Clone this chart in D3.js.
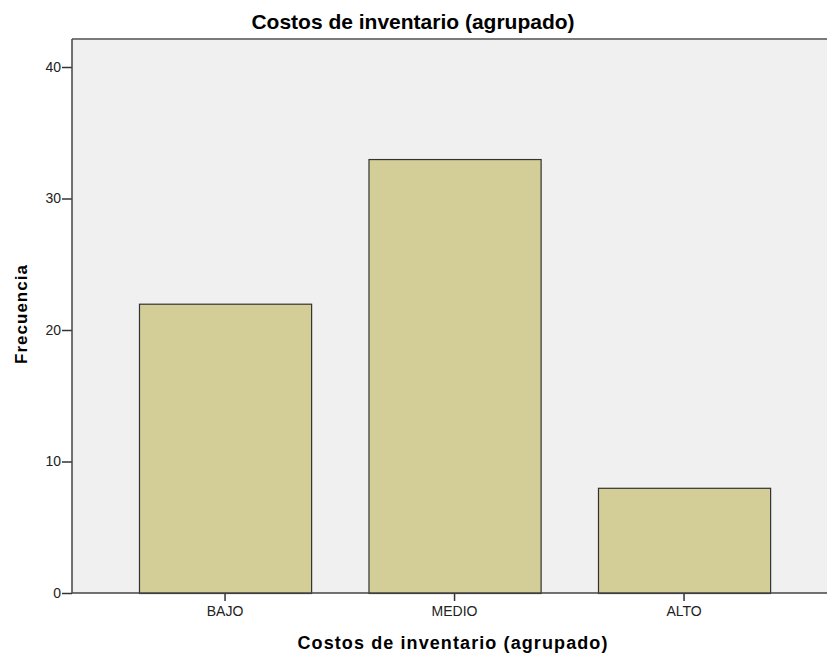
<!DOCTYPE html>
<html>
<head>
<meta charset="utf-8">
<script src="https://cdn.jsdelivr.net/npm/d3@7"></script>
<style>
  body { margin: 0; background: #fff; }
  text { font-family: "Liberation Sans", Arial, sans-serif; }
</style>
</head>
<body>
<svg id="chart" width="827" height="660"></svg>
<script>
// datos
var categories = ["BAJO", "MEDIO", "ALTO"];
var counts = [22, 33, 8];
var y_ticks = [0, 10, 20, 30, 40];

var chart = {
    width: 827,
    height: 660,
    left: 72,
    top: 39,
    right: 827,
    bottom: 593,
};

var svg = d3.select("#chart");

var x = d3.scaleBand()
    .domain(categories)
    .range([110.3, 798.8])
    .paddingInner(0.25)
    .paddingOuter(0.125);

var y = d3.scaleLinear()
    .domain([0, 40])
    .range([chart.bottom, chart.bottom - 40 * 13.15]);

// fondo del area de grafico
svg.append("rect")
    .attr("x", chart.left)
    .attr("y", chart.top)
    .attr("width", chart.right - chart.left)
    .attr("height", chart.bottom - chart.top)
    .attr("fill", "#f0f0f0");

svg.append("line")
    .attr("x1", chart.left).attr("x2", chart.right)
    .attr("y1", chart.top).attr("y2", chart.top)
    .attr("stroke", "#7a7a7a")
    .attr("stroke-width", 2);

// barras
svg.append("g")
    .selectAll("rect")
    .data(categories)
    .enter().append("rect")
        .attr("x", (d) => x(d) + 0.5)
        .attr("y", (d, i) => y(counts[i]) + 0.5)
        .attr("width", x.bandwidth())
        .attr("height", (d, i) => y(0) - y(counts[i]))
        .attr("fill", "#d3ce97")
        .attr("stroke", "#333")
        .attr("stroke-width", 1.2);

// ejes
var yAxis = svg.append("g")
    .attr("transform", "translate(" + chart.left + ",0)")
    .call(d3.axisLeft(y).tickValues(y_ticks).tickSize(10).tickPadding(1));
var xAxis = svg.append("g")
    .attr("transform", "translate(0," + chart.bottom + ")")
    .call(d3.axisBottom(x).tickSize(8).tickPadding(5));

yAxis.select(".domain").remove();
xAxis.select(".domain").remove();

svg.append("line")
    .attr("x1", chart.left).attr("x2", chart.left)
    .attr("y1", chart.top).attr("y2", chart.bottom)
    .attr("stroke", "#444").attr("stroke-width", 1.5);
svg.append("line")
    .attr("x1", chart.left).attr("x2", chart.right)
    .attr("y1", chart.bottom).attr("y2", chart.bottom)
    .attr("stroke", "#444").attr("stroke-width", 1.5);

svg.selectAll(".tick line").attr("stroke", "#333").attr("stroke-width", 1.5);
svg.selectAll(".tick text")
    .attr("fill", "#222")
    .style("font-family", "'Liberation Sans', Arial, sans-serif")
    .style("font-size", "14px");

// titulos
svg.append("text")
    .attr("x", 413)
    .attr("y", 29)
    .attr("text-anchor", "middle")
    .style("font-size", "21px")
    .style("font-weight", "bold")
    .text("Costos de inventario (agrupado)");

svg.append("text")
    .attr("x", 453)
    .attr("y", 649)
    .attr("text-anchor", "middle")
    .style("font-size", "18px")
    .style("font-weight", "bold")
    .style("letter-spacing", "1.1px")
    .text("Costos de inventario (agrupado)");

svg.append("text")
    .attr("transform", "translate(27,314) rotate(-90)")
    .attr("text-anchor", "middle")
    .style("font-size", "17px")
    .style("font-weight", "bold")
    .style("letter-spacing", "1px")
    .text("Frecuencia");
</script>
</body>
</html>
